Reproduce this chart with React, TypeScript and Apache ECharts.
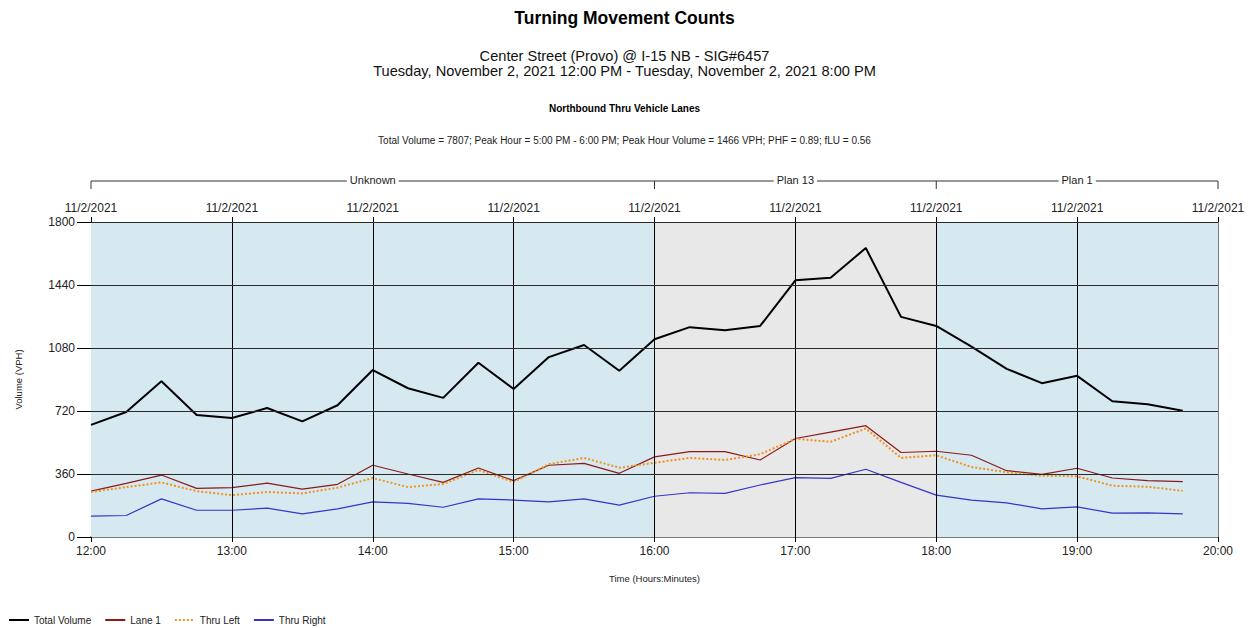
import React, { useEffect, useRef } from "react";
import * as echarts from "echarts";

const times = [
  "12:00", "12:15", "12:30", "12:45", "13:00", "13:15", "13:30", "13:45",
  "14:00", "14:15", "14:30", "14:45", "15:00", "15:15", "15:30", "15:45",
  "16:00", "16:15", "16:30", "16:45", "17:00", "17:15", "17:30", "17:45",
  "18:00", "18:15", "18:30", "18:45", "19:00", "19:15", "19:30", "19:45",
];
const totalVolume = [
  641, 714, 890, 697, 680, 737, 661, 753, 954, 850, 795, 996, 846, 1028, 1097, 950,
  1130, 1199, 1182, 1206, 1467, 1482, 1651, 1258, 1206, 1088, 961, 879, 921, 776, 758, 722,
];
const lane1 = [
  262, 306, 354, 278, 282, 308, 274, 301, 410, 360, 312, 394, 322, 410, 421, 364,
  458, 488, 488, 440, 563, 599, 636, 483, 490, 467, 379, 358, 393, 337, 322, 316,
];
const thruLeft = [
  257, 285, 312, 262, 239, 257, 249, 282, 337, 285, 303, 383, 314, 416, 452, 396,
  424, 452, 440, 473, 561, 544, 620, 452, 467, 400, 370, 350, 347, 293, 287, 264,
];
const thruRight = [
  119, 123, 218, 153, 153, 165, 132, 161, 201, 192, 170, 218, 211, 201, 218, 182,
  233, 253, 249, 297, 339, 335, 387, 312, 239, 211, 195, 161, 172, 136, 138, 132,
];
const seriesNames = ["Total Volume", "Lane 1", "Thru Left", "Thru Right"];
const planNames = ["Unknown", "Plan 13", "Plan 1"];
const planStarts = ["12:00", "16:00", "18:00"];
const planEnds = ["16:00", "18:00", "20:00"];
const planColors = ["#D6E9F1", "#E8E8E8", "#D6E9F1"];
const hourTicks = ["12:00", "13:00", "14:00", "15:00", "16:00", "17:00", "18:00", "19:00", "20:00"];
const yTicks = [0, 360, 720, 1080, 1440, 1800];
const dateLabel = "11/2/2021";

const titleText = "Turning Movement Counts";
const subtitleLines = [
  "Center Street (Provo) @ I-15 NB - SIG#6457",
  "Tuesday, November 2, 2021 12:00 PM - Tuesday, November 2, 2021 8:00 PM",
];
const chartSubtitle = "Northbound Thru Vehicle Lanes";
const summaryText =
  "Total Volume = 7807; Peak Hour = 5:00 PM - 6:00 PM; Peak Hour Volume = 1466 VPH; PHF = 0.89; fLU = 0.56";

const FONT = "'Liberation Sans', Arial, sans-serif";

const toMin = (t: string) => {
  const [h, m] = t.split(":").map(Number);
  return h * 60 + m - 12 * 60;
};
const fmtMin = (v: number) => {
  const total = v + 12 * 60;
  const h = Math.floor(total / 60);
  const m = total % 60;
  return `${h}:${m < 10 ? "0" + m : m}`;
};

const pairs = (vals: number[]) => times.map((t, i) => [toMin(t), vals[i]]);

export default function App() {
  const ref = useRef<HTMLDivElement>(null);
  useEffect(() => {
    if (!ref.current) return;
    const chart = echarts.init(ref.current, undefined, { renderer: "svg" });
    const xMin = toMin(hourTicks[0]);
    const xMax = toMin(hourTicks[hourTicks.length - 1]);
    const xInterval = toMin(hourTicks[1]) - toMin(hourTicks[0]);
    const yMax = yTicks[yTicks.length - 1];
    const yInterval = yTicks[1] - yTicks[0];

    chart.setOption({
      animation: false,
      textStyle: { fontFamily: FONT },
      title: [
        {
          text: titleText,
          left: "center",
          top: 4,
          textStyle: { fontSize: 17.5, fontWeight: "bold", color: "#000", fontFamily: FONT },
        },
        {
          text: subtitleLines.join("\n"),
          left: "center",
          top: 43,
          textStyle: { fontSize: 14.6, fontWeight: "normal", color: "#111", lineHeight: 15, fontFamily: FONT },
        },
        {
          text: chartSubtitle,
          left: "center",
          top: 98,
          textStyle: { fontSize: 10, fontWeight: "bold", color: "#000", fontFamily: FONT },
        },
        {
          text: summaryText,
          left: "center",
          top: 130,
          textStyle: { fontSize: 10, fontWeight: "normal", color: "#222", fontFamily: FONT },
        },
      ],
      grid: { left: 91, right: 31, top: 222, bottom: 91, show: false },
      legend: {
        data: seriesNames,
        left: 3,
        top: 610,
        itemWidth: 20,
        itemHeight: 10,
        itemGap: 13,
        itemStyle: { opacity: 0 },
        textStyle: { fontSize: 10, color: "#222", fontFamily: FONT },
      },
      xAxis: [
        {
          type: "value",
          position: "bottom",
          min: xMin,
          max: xMax,
          interval: xInterval,
          name: "Time (Hours:Minutes)",
          nameLocation: "middle",
          nameGap: 36,
          nameTextStyle: { fontSize: 9.5, color: "#222" },
          axisLabel: { formatter: (v: number) => fmtMin(v), fontSize: 12, color: "#222", margin: 8 },
          axisTick: { show: true, inside: false, length: 5, lineStyle: { color: "#000" } },
          axisLine: { show: true, lineStyle: { color: "#7a7a7a", width: 2 } },
          splitLine: { show: false },
        },
        {
          type: "value",
          position: "top",
          min: xMin,
          max: xMax,
          interval: xInterval,
          axisLabel: { formatter: () => dateLabel, fontSize: 12, color: "#222", margin: 8 },
          axisTick: { show: true, inside: false, length: 5, lineStyle: { color: "#000" } },
          axisLine: { show: false },
          splitLine: { show: false },
        },
      ],
      yAxis: {
        type: "value",
        min: 0,
        max: yMax,
        interval: yInterval,
        name: "Volume (VPH)",
        nameLocation: "middle",
        nameGap: 68,
        nameRotate: 90,
        nameTextStyle: { fontSize: 9.5, color: "#222" },
        axisLabel: { fontSize: 12, color: "#222", margin: 16, formatter: (v: number) => String(v) },
        axisTick: { show: true, inside: false, length: 14, lineStyle: { color: "#000" } },
        axisLine: { show: true, lineStyle: { color: "#000", width: 1 } },
        splitLine: { show: false },
      },
      series: [
        {
          name: "bg",
          type: "line",
          z: 1,
          silent: true,
          data: [[xMin, 0]],
          symbol: "none",
          lineStyle: { opacity: 0 },
          markArea: {
            silent: true,
            label: { show: false },
            data: planNames.map((n, i) => [
              { xAxis: toMin(planStarts[i]), itemStyle: { color: planColors[i], opacity: 1 } },
              { xAxis: toMin(planEnds[i]) },
            ]),
          },
        },
        {
          name: "grid",
          type: "line",
          z: 2,
          silent: true,
          data: [[xMin, 0]],
          symbol: "none",
          lineStyle: { opacity: 0 },
          markLine: {
            silent: true,
            symbol: "none",
            label: { show: false },
            data: [
              ...hourTicks.slice(1).map((h, i) => ({
                xAxis: toMin(h),
                lineStyle: { color: i === hourTicks.length - 2 ? "#7a7a7a" : "#000", width: 1, type: "solid" },
              })),
              ...yTicks.slice(1).map((v) => ({
                yAxis: v,
                lineStyle: { color: "#2a2a2a", width: 1, type: "solid" },
              })),
            ],
          },
        },
        {
          name: seriesNames[0],
          type: "line",
          z: 3,
          data: pairs(totalVolume),
          symbol: "none",
          color: "#000",
          lineStyle: { color: "#000", width: 2 },
        },
        {
          name: seriesNames[1],
          type: "line",
          z: 3,
          data: pairs(lane1),
          symbol: "none",
          color: "#9B1C1C",
          lineStyle: { color: "#8B1A1A", width: 1.2 },
        },
        {
          name: seriesNames[2],
          type: "line",
          z: 3,
          data: pairs(thruLeft),
          symbol: "none",
          color: "#F0921E",
          lineStyle: { color: "#F0921E", width: 2, type: [2, 2] },
        },
        {
          name: seriesNames[3],
          type: "line",
          z: 3,
          data: pairs(thruRight),
          symbol: "none",
          color: "#1E1EB4",
          lineStyle: { color: "#3535C8", width: 1.2 },
        },
      ],
    });

    const px = (t: string) => chart.convertToPixel({ xAxisIndex: 0 }, toMin(t)) as number;
    const bracketY = 181;
    const tickBottom = 189;
    const boundaries = [...planStarts, planEnds[planEnds.length - 1]];
    const graphic: any[] = [
      {
        type: "line",
        shape: { x1: px(planStarts[0]), y1: bracketY, x2: px(planEnds[planEnds.length - 1]), y2: bracketY },
        style: { stroke: "#333", lineWidth: 1 },
      },
      ...boundaries.map((b) => ({
        type: "line",
        shape: { x1: px(b), y1: bracketY, x2: px(b), y2: tickBottom },
        style: { stroke: "#333", lineWidth: 1 },
      })),
      ...planNames.map((n, i) => ({
        type: "text",
        x: (px(planStarts[i]) + px(planEnds[i])) / 2,
        y: bracketY - 1,
        style: {
          text: n,
          font: `11px ${FONT}`,
          fill: "#222",
          align: "center",
          verticalAlign: "middle",
          backgroundColor: "#fff",
          padding: [0, 3],
        },
        z: 10,
      })),
    ];
    chart.setOption({ graphic });

    return () => chart.dispose();
  }, []);
  return (
    <div
      ref={ref}
      style={{ position: "fixed", left: 0, top: 0, width: 1249, height: 628, background: "#fff" }}
    />
  );
}
